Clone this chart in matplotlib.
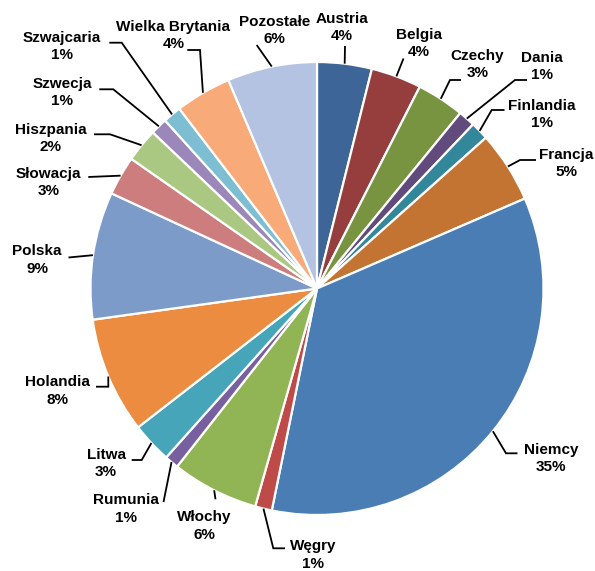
import matplotlib
matplotlib.use("Agg")
import matplotlib.pyplot as plt
import numpy as np

# Share of each country (percent)
countries = ["Austria", "Belgia", "Czechy", "Dania", "Finlandia", "Francja",
             "Niemcy", "Węgry", "Włochy", "Rumunia", "Litwa", "Holandia",
             "Polska", "Słowacja", "Hiszpania", "Szwecja", "Szwajcaria",
             "Wielka Brytania", "Pozostałe"]
shares = [3.9, 3.6, 3.4, 1.2, 1.3, 5.1,
          34.7, 1.2, 6.2, 1.0, 2.9, 8.3,
          9.1, 2.8, 2.4, 1.2, 1.3,
          4.0, 6.4]
colors = ["#3D6598", "#963D3D", "#789441", "#614B7D", "#32879B", "#C37332",
          "#4A7DB4", "#BE4B48", "#91B455", "#7860A0", "#46A5B9", "#EB8C41",
          "#7D9BC8", "#CD7D7D", "#AAC882", "#9B87B9", "#7DBED2",
          "#F8AA78", "#B4C3E1"]

W, H = 595, 571
fig = plt.figure(figsize=(W / 100, H / 100), dpi=100)
ax = fig.add_axes([0, 0, 1, 1])

# layout helpers: positions measured from the top-left corner in pixels
def px(x, y):
    return (x, H - y)

cx, cy = px(317, 288.5)
R = 226.5

wedges, _ = ax.pie(shares, colors=colors, startangle=90, counterclock=False,
                   center=(cx, cy), radius=R,
                   wedgeprops=dict(edgecolor="white", linewidth=1.6))
ax.set_xlim(0, W)
ax.set_ylim(0, H)
ax.set_aspect("equal")
ax.axis("off")

# label block centre and leader-line path (pixels, top-left origin)
label_layout = {
    "Austria":         ((341.5, 27.5), [(345, 46)]),
    "Belgia":          ((419, 43.5), [(403.5, 58.5)]),
    "Czechy":          ((477.5, 64.5), [(450, 80), (461, 80)]),
    "Dania":           ((542, 66.5), [(515, 80), (527, 80)]),
    "Finlandia":       ((541.7, 114.5), [(491.7, 110), (504.5, 110)]),
    "Francja":         ((566, 163.5), [(520, 160), (536, 160)]),
    "Niemcy":          ((550.8, 458.7), [(506, 453.3), (517.5, 453.3)]),
    "Węgry":           ((313, 555), [(273.3, 548.3), (285, 548.3)]),
    "Włochy":          ((204.7, 525.8), [(215.5, 499.3)]),
    "Rumunia":         ((125.5, 509.2), [(163.5, 502)]),
    "Litwa":           ((106, 463.3), [(141.7, 460), (131.7, 460)]),
    "Holandia":        ((57.2, 390.8), [(108.3, 386.7), (96, 386.7)]),
    "Polska":          ((37.2, 259.8), [(68.5, 257.5)]),
    "Słowacja":        ((48.6, 182.5), [(88.3, 177)]),
    "Hiszpania":       ((50.4, 138.3), [(110, 134.3), (94, 134.3)]),
    "Szwecja":         ((62.2, 92.5), [(113.3, 89.3), (99.3, 89.3)]),
    "Szwajcaria":      ((62, 46.7), [(121.7, 42.7), (109.3, 42.7)]),
    "Wielka Brytania": ((173.5, 35.5), [(200, 50), (187.3, 50)]),
    "Pozostałe":       ((274.5, 30.3), [(256.7, 45)]),
}

total = sum(shares)
for w, name, val in zip(wedges, countries, shares):
    mid = np.deg2rad((w.theta1 + w.theta2) / 2)
    start = (cx + R * np.cos(mid), cy + R * np.sin(mid))
    (tx, ty), path = label_layout[name]
    pts = [start] + [px(x, y) for x, y in path]
    xs, ys = zip(*pts)
    ax.plot(xs, ys, color="black", linewidth=1.3, solid_capstyle="butt",
            solid_joinstyle="miter")
    pct = int(round(val / total * 100))
    ax.text(*px(tx, ty), f"{name}\n{pct}%", ha="center", va="center",
            multialignment="center", fontsize=11, fontweight="bold",
            family=["Liberation Sans", "DejaVu Sans"], linespacing=1.32,
            color="black")

fig.savefig("out.png", dpi=100)
